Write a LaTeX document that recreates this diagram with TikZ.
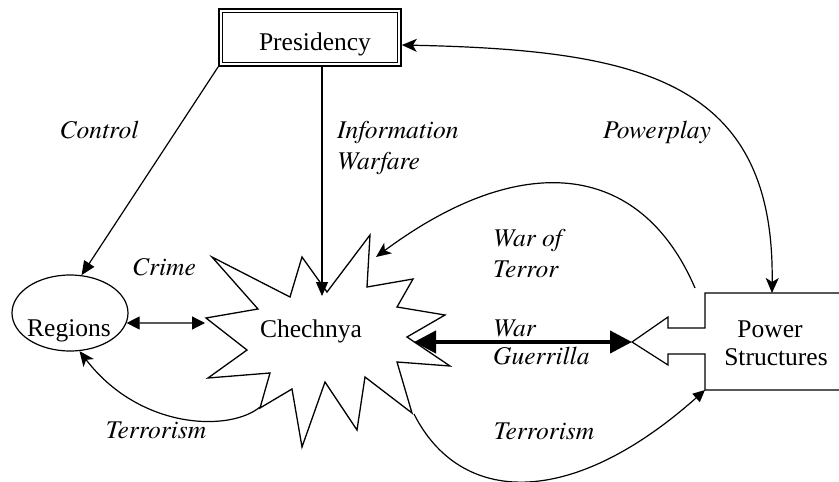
\documentclass[tikz,border=0pt]{standalone}
\usepackage{fontspec}
\setmainfont{Liberation Serif}
\newfontfamily\labelfont{texgyretermes-italic.otf}
\usetikzlibrary{arrows.meta,calc,shapes.geometric}
\begin{document}
\begin{tikzpicture}[x=1pt,y=-1pt,
  txt/.style={font=\fontsize{25.5}{30}\selectfont, inner sep=0pt},
  lbl/.style={font=\labelfont\fontsize{25.5}{30}\selectfont, inner sep=0pt},
  conn/.style={line width=1.2pt},
  tri/.style={-{Triangle[length=14pt,width=12pt]}},
  stl/.style={-{Stealth[length=15pt,width=13pt,inset=4pt]}},
  stlboth/.style={{Stealth[length=15pt,width=13pt,inset=4pt]}-{Stealth[length=15pt,width=13pt,inset=4pt]}},
  tridouble/.style={{Triangle[length=13pt,width=13pt]}-{Triangle[length=13pt,width=13pt]}},
  bigdouble/.style={line width=4pt,{Triangle[length=22pt,width=22pt]}-{Triangle[length=22pt,width=22pt]}}]
\useasboundingbox (0,0) rectangle (839,482);

% Presidency
\node[draw, line width=1.6pt, minimum width=182pt, minimum height=57pt, inner sep=0pt] (pres) at (310,37.5) {};
\draw[line width=0.9pt] ($(pres.south west)+(4.5,-4.5)$) rectangle ($(pres.north east)+(-4.5,4.5)$);
\node[txt, anchor=base] (prestext) at (315,50) {Presidency};

% Regions
\node[draw, ellipse, line width=1.2pt, minimum width=116pt, minimum height=76pt, inner sep=0pt] (regions) at (70,313) {};
\node[txt, anchor=base] (regtext) at (69,336) {Regions};

% Chechnya star
\draw[line width=1.3pt, fill=white, line join=miter]
  (212,257) -- (290,297) -- (302,257) -- (327,292) -- (370,235) -- (367,287)
  -- (413,279) -- (397,307) -- (445,315) -- (407,337) -- (450,366) -- (397,362)
  -- (412,413) -- (365,377) -- (357,430) -- (325,382) -- (302,447) -- (292,389)
  -- (260,408) -- (270,373) -- (208,378) -- (247,350) -- (206,318) -- (258,309) -- cycle;
\node[txt, anchor=base] (chechnya) at (311,337) {Chechnya};
\coordinate (sTop) at (322,296);
\coordinate (sLeft) at (205,323);
\coordinate (sRight) at (414,342);
\coordinate (sWT) at (376,257);
\coordinate (sBL) at (260,407);
\coordinate (sBR) at (414,414);

% Power Structures
\draw[line width=1.2pt] (842,293) -- (705,293) -- (705,328) -- (668,328) -- (668,317)
  -- (632,342) -- (668,365) -- (668,354) -- (705,354) -- (705,390) -- (842,390);
\node[txt, anchor=base] (power) at (770,337) {Power};
\node[txt, anchor=base] (structures) at (776,365) {Structures};
\coordinate (psTip) at (632,342);
\coordinate (psTop) at (772,293);
\coordinate (psCorner) at (705,390);
\coordinate (psWT) at (695,288);

% Connectors
\draw[conn, tri] (pres.south west) -- (regions.73);
\draw[conn, tri] ($(pres.south)+(12,0)$) -- (sTop);
\draw[conn, stlboth] ($(pres.east)+(0,7.5)$) .. controls (640,50) and (775,80) .. (psTop);
\draw[conn, stl] (psWT) .. controls (640,160) and (520,150) .. (sWT);
\draw[bigdouble] (sRight) -- (psTip);
\draw[conn, tridouble] (regions.-10) -- (sLeft);
\draw[conn, stl] (sBL) .. controls (230,432) and (140,430) .. (regions.-76);
\draw[conn, -{Triangle[length=12pt,width=11pt]}] (sBR) .. controls (460,505) and (570,510) .. (psCorner);

% Labels
\node[lbl, anchor=base] (lcontrol) at (99,138) {Control};
\node[lbl, anchor=base west] (linfo) at (337,138) {Information};
\node[lbl, anchor=base west] (lwarfare) at (337,169) {Warfare};
\node[lbl, anchor=base] (lpower) at (657,138) {Powerplay};
\node[lbl, anchor=base west] (lcrime) at (132,275) {Crime};
\node[lbl, anchor=base west] (lwarof) at (493,246) {War of};
\node[lbl, anchor=base west] (lterror) at (493,277) {Terror};
\node[lbl, anchor=base west] (lwar) at (493,336) {War};
\node[lbl, anchor=base west] (lguer) at (493,364) {Guerrilla};
\node[lbl, anchor=base] (lterr1) at (156,438) {Terrorism};
\node[lbl, anchor=base] (lterr2) at (544,439) {Terrorism};
\end{tikzpicture}
\end{document}
